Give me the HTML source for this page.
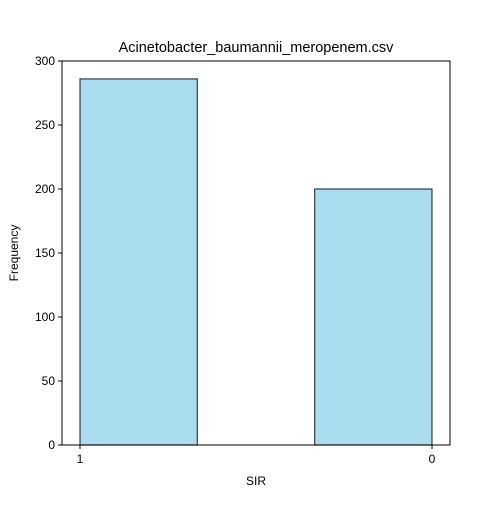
<!DOCTYPE html>
<html><head><meta charset="utf-8"><style>
body{margin:0;background:#fff;}
svg text{font-family:"Liberation Sans","DejaVu Sans",sans-serif;}
</style></head><body>
<svg id="chart" width="500" height="500" viewBox="0 0 500 500"></svg>
<script>
const categories = ["1", "0"];
const frequencies = [286, 200];
const yTicks = [0, 50, 100, 150, 200, 250, 300];
const title = "Acinetobacter_baumannii_meropenem.csv";

const NS = "http://www.w3.org/2000/svg";
const svg = document.getElementById("chart");
const L = 62, R = 450, T = 61, B = 445;
const yMax = 300;
function y(v){ return B - (v / yMax) * (B - T); }
function xPos(i){ const u = categories.length > 1 ? i / (categories.length - 1) : 0.5; return 80 + u * 352; }
const binW = 352 / 3;

function el(tag, attrs, text){
  const e = document.createElementNS(NS, tag);
  for (const k in attrs) e.setAttribute(k, attrs[k]);
  if (text !== undefined) e.textContent = text;
  svg.appendChild(e);
  return e;
}

frequencies.forEach((v, i) => {
  const x0 = i === 0 ? xPos(i) : xPos(i) - binW;
  const b = el("rect", {x: x0, y: y(v), width: binW, height: B - y(v), fill: "#87ceeb", "fill-opacity": 0.7, stroke: "#000", "stroke-opacity": 0.75, "stroke-width": 1.2});
  
  
});

const axes = el("rect", {x: L, y: T, width: R - L, height: B - T, fill: "none", stroke: "#000", "stroke-width": 1});



yTicks.forEach(t => {
  const tk = el("line", {x1: L - 4, x2: L, y1: y(t), y2: y(t), stroke: "#000"});
  
  
  const lb = el("text", {x: L - 7, y: y(t) + 4, "text-anchor": "end", "font-size": 12}, String(t));
  
  
});

categories.forEach((c, i) => {
  const tk = el("line", {x1: xPos(i), x2: xPos(i), y1: B, y2: B + 4, stroke: "#000"});
  
  
  const lb = el("text", {x: xPos(i), y: B + 18, "text-anchor": "middle", "font-size": 12}, c);
  
  
});

const tt = el("text", {x: (L + R) / 2, y: T - 9, "text-anchor": "middle", "font-size": 14.5}, title);


const xt = el("text", {x: (L + R) / 2, y: 485, "text-anchor": "middle", "font-size": 12}, "SIR");


const yt = el("text", {x: 18, y: (T + B) / 2, "text-anchor": "middle", "font-size": 12, transform: "rotate(-90 18 " + (T + B) / 2 + ")"}, "Frequency");


</script>
</body></html>
